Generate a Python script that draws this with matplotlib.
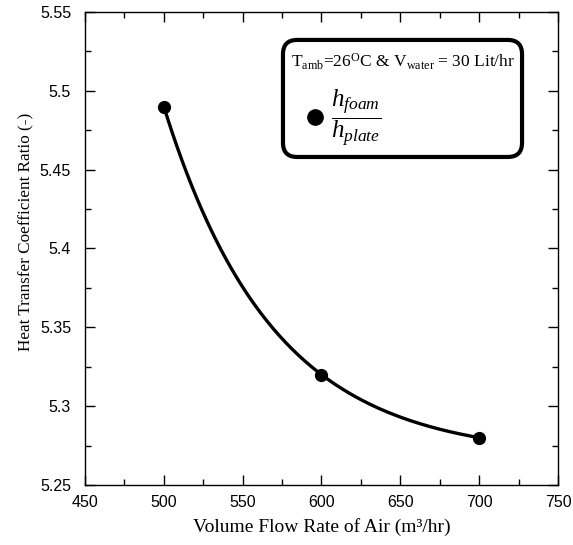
import numpy as np
import matplotlib.pyplot as plt
from matplotlib.patches import FancyBboxPatch
from matplotlib.ticker import MultipleLocator

plt.rcParams['mathtext.fontset'] = 'custom'
plt.rcParams['mathtext.rm'] = 'Liberation Serif'
plt.rcParams['mathtext.it'] = 'Liberation Serif:italic'

# data
flow = [500, 600, 700]
ratio = [5.49, 5.32, 5.28]
xticks = [450, 500, 550, 600, 650, 700, 750]
yticks = [5.25, 5.3, 5.35, 5.4, 5.45, 5.5, 5.55]

fig = plt.figure(figsize=(5.73, 5.45), dpi=100)
ax = fig.add_axes([0.1483, 0.1101, 0.8255, 0.868])

# exponential decay fit y = a + b*exp(-c*(x - x0)) through the three points
step = flow[1] - flow[0]
c = np.log((ratio[0] - ratio[1]) / (ratio[1] - ratio[2])) / step
b = (ratio[0] - ratio[1]) / (1 - np.exp(-c * step))
a = ratio[0] - b
xf = np.linspace(flow[0], flow[-1], 200)
ax.plot(xf, a + b * np.exp(-c * (xf - flow[0])), color='black', lw=2.4)
ax.plot(flow, ratio, 'o', color='black', markersize=8.5)

ax.set_xlim(450, 750)
ax.set_ylim(5.25, 5.55)
ax.set_xticks(xticks)
ax.set_yticks(yticks)
ax.set_xticklabels([str(v) for v in xticks], fontname='Liberation Sans', fontsize=11.5)
ax.set_yticklabels([f'{v:g}' for v in yticks], fontname='Liberation Sans', fontsize=11.5)
ax.xaxis.set_minor_locator(MultipleLocator(25))
ax.yaxis.set_minor_locator(MultipleLocator(0.025))
ax.tick_params(which='both', direction='in', top=True, right=True, width=1)
ax.tick_params(which='major', length=7)
ax.tick_params(which='minor', length=4)
ax.tick_params(axis='x', which='major', pad=7)
ax.tick_params(axis='y', which='major', pad=10)
for s in ax.spines.values():
    s.set_linewidth(1)

ax.set_xlabel('Volume Flow Rate of Air (m³/hr)', fontname='Liberation Serif', fontsize=14)
ax.xaxis.set_label_coords(0.5, -0.07)
ax.set_ylabel('Heat Transfer Coefficient Ratio (-)', fontname='Liberation Serif', fontsize=12.3)
ax.yaxis.set_label_coords(-0.107, 0.535)

# legend box
box = FancyBboxPatch((0.4186, 0.6934), 0.5054, 0.2474, boxstyle='round,pad=0,rounding_size=0.03',
                     transform=ax.transAxes, fill=False, lw=3, ec='black', zorder=5)
ax.add_patch(box)
ax.text(0.673, 0.894, r'T$_{\rm amb}$=26$^{\rm O}$C & V$_{\rm water}$ = 30 Lit/hr',
        transform=ax.transAxes, ha='center', va='center', fontsize=12.5,
        fontname='Liberation Serif', zorder=6)
ax.plot([0.486], [0.778], 'o', color='black', markersize=11, transform=ax.transAxes, zorder=6)
ax.text(0.52, 0.775, r'$\dfrac{h_{foam}}{h_{plate}}$', transform=ax.transAxes,
        ha='left', va='center', fontsize=18, zorder=6)

fig.savefig('out.png', dpi=100)
